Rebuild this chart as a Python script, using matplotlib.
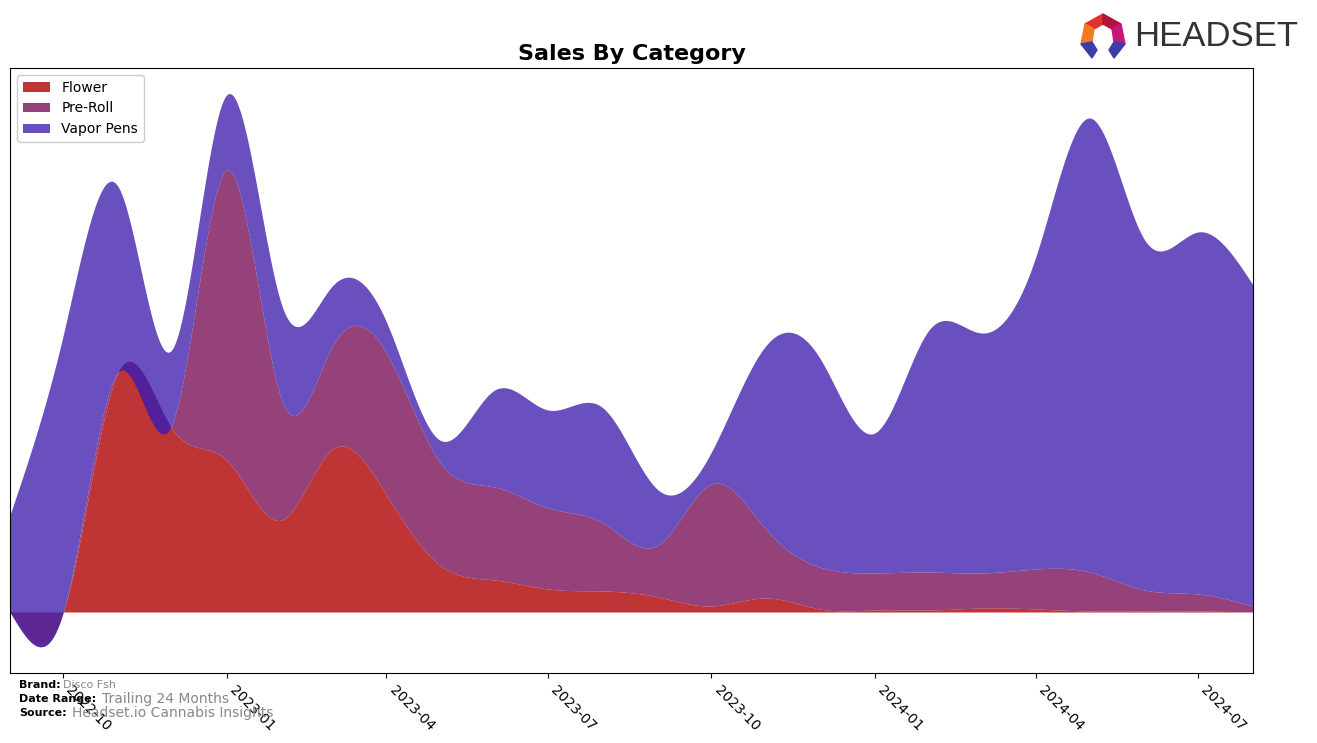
import numpy as np
import matplotlib
matplotlib.use("Agg")
import matplotlib.pyplot as plt
import matplotlib.dates as mdates
from matplotlib.patches import Polygon
import datetime as dt

# ---- data (monthly, arbitrary units) ----
months = ["2022-09", "2022-10", "2022-11", "2022-12", "2023-01", "2023-02", "2023-03", "2023-04",
          "2023-05", "2023-06", "2023-07", "2023-08", "2023-09", "2023-10", "2023-11", "2023-12",
          "2024-01", "2024-02", "2024-03", "2024-04", "2024-05", "2024-06", "2024-07", "2024-08"]
flower = [0, 0, 240, 184, 152, 92, 162, 117, 47, 32, 23, 21,
          15, 6, 14, 3, 2, 2, 4, 3, 1, 1, 1, 0]
pre_roll = [0, 0, 0, 3, 290, 120, 102, 142, 103, 93, 81, 68,
            52, 122, 68, 42, 37, 38, 35, 40, 39, 21, 17, 6]
vapor_pens = [97, 277, 185, 75, 75, 95, 61, 31, 22, 97, 98, 115,
              55, 32, 185, 209, 140, 243, 240, 314, 454, 350, 362, 321]
series_names = ["Flower", "Pre-Roll", "Vapor Pens"]
colors = ["#b00101", "#7c1359", "#4523ae"]
ALPHA = 0.8


def natural_spline(x, y, xs):
    x = np.asarray(x, float)
    y = np.asarray(y, float)
    n = len(x)
    h = np.diff(x)
    A = np.zeros((n, n))
    r = np.zeros(n)
    A[0, 0] = 1
    A[-1, -1] = 1
    for i in range(1, n - 1):
        A[i, i - 1] = h[i - 1]
        A[i, i] = 2 * (h[i - 1] + h[i])
        A[i, i + 1] = h[i]
        r[i] = 3 * ((y[i + 1] - y[i]) / h[i] - (y[i] - y[i - 1]) / h[i - 1])
    c = np.linalg.solve(A, r)
    b = (y[1:] - y[:-1]) / h - h * (2 * c[:-1] + c[1:]) / 3
    d = (c[1:] - c[:-1]) / (3 * h)
    idx = np.clip(np.searchsorted(x, xs) - 1, 0, n - 2)
    dx = xs - x[idx]
    return y[idx] + b[idx] * dx + c[idx] * dx ** 2 + d[idx] * dx ** 3


dates = [dt.datetime.strptime(m, "%Y-%m") for m in months]
xnum = mdates.date2num(dates)
xs = np.linspace(xnum[0], xnum[-1], 1500)

fig = plt.figure(figsize=(13.17, 7.43), dpi=100)
ax = fig.add_axes([10 / 1317, 1 - 673 / 743, (1253 - 10) / 1317, (673 - 68) / 743])

base = np.zeros_like(xs)
for name, vals, col in zip(series_names, [flower, pre_roll, vapor_pens], colors):
    sm = natural_spline(xnum, vals, xs)
    top = base + sm
    ax.fill_between(xs, base, top, color=col, alpha=ALPHA, linewidth=0, label=name)
    base = top

ax.set_xlim(xnum[0], xnum[-1])
ax.set_ylim(-61, 544)
ax.set_yticks([])
ax.xaxis.set_major_locator(mdates.MonthLocator(bymonth=[1, 4, 7, 10]))
ax.xaxis.set_major_formatter(mdates.DateFormatter("%Y-%m"))
plt.setp(ax.get_xticklabels(), rotation=-45, ha="left", fontsize=10)

ax.set_title("Sales By Category", fontsize=16, fontweight="bold", pad=6)
ax.legend(loc="upper left", fontsize=10, framealpha=1)

# footer
fig.text(19 / 1317, 1 - 685 / 743, "Brand:", fontsize=8, fontweight="bold", va="center")
fig.text(63 / 1317, 1 - 685 / 743, "Disco Fsh", fontsize=8, color="#888888", va="center")
fig.text(19 / 1317, 1 - 699 / 743, "Date Range:", fontsize=8, fontweight="bold", va="center")
fig.text(102 / 1317, 1 - 699 / 743, "Trailing 24 Months", fontsize=10, color="#888888", va="center")
fig.text(19 / 1317, 1 - 713 / 743, "Source:", fontsize=8, fontweight="bold", va="center")
fig.text(72 / 1317, 1 - 713 / 743, "Headset.io Cannabis Insights", fontsize=10, color="#888888", va="center")

# logo
def P(px, py):
    return (px / 1317, 1 - py / 743)

segs = [
    ([(1085, 24), (1103, 14), (1103, 24), (1094, 29)], "#e0302f"),
    ([(1103, 14), (1121, 24), (1112, 29), (1103, 24)], "#b0143e"),
    ([(1085, 24), (1094, 29), (1092, 42), (1081, 44)], "#f07b22"),
    ([(1121, 24), (1125, 44), (1114, 42), (1112, 29)], "#c4177a"),
    ([(1081, 44), (1092, 42), (1097, 50), (1092, 58)], "#3a3fa8"),
    ([(1125, 44), (1114, 42), (1109, 50), (1114, 58)], "#3a3fa8"),
]
for pts, col in segs:
    fig.patches.append(Polygon([P(*p) for p in pts], closed=True, color=col,
                               transform=fig.transFigure, figure=fig))
fig.text(1134 / 1317, 1 - 37 / 743, "HEADSET", fontsize=25, color="#333333", va="center",
         ha="left", family=["Liberation Sans", "DejaVu Sans"])

fig.savefig("out.png", dpi=100)
